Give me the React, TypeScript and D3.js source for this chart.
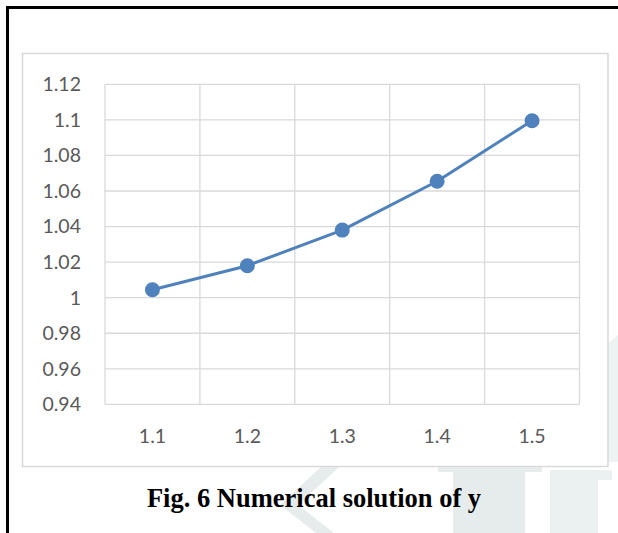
import React from "react";
import * as d3 from "d3";

const categories: string[] = ["1.1", "1.2", "1.3", "1.4", "1.5"];
const yValues: number[] = [1.0045, 1.018, 1.038, 1.0655, 1.0995];
const yTicks: number[] = [0.94, 0.96, 0.98, 1, 1.02, 1.04, 1.06, 1.08, 1.1, 1.12];
const caption = "Fig. 6 Numerical solution of y";

const W = 618;
const H = 533;

export default function App() {
  const plot = { left: 105, right: 579.5, top: 84.3, bottom: 404.4 };
  const x = d3.scaleBand<string>().domain(categories).range([plot.left, plot.right]);
  const y = d3.scaleLinear().domain([0.94, 1.12]).range([plot.bottom, plot.top]);
  const line = d3
    .line<number>()
    .x((_, i) => (x(categories[i]) as number) + x.bandwidth() / 2)
    .y((d) => y(d));
  const fmt = (v: number) => String(+v.toFixed(2));
  const grid = "#d9d9d9";
  const blue = "#4f81bd";
  const font = "Lato, 'Open Sans', sans-serif";
  const wm = "#e6ecec";

  return (
    <svg
      width={W}
      height={H}
      style={{ position: "absolute", left: 0, top: 0, display: "block", background: "#fff" }}
    >
      <rect x={0} y={0} width={W} height={H} fill="#fff" />
      {/* faint watermark */}
      <g fill={wm}>
        <polygon points="322,466 340,466 298,505 334,533 316,533 280,505" />
        <rect x={453} y={472} width={72} height={61} />
        <rect x={438} y={467} width={104} height={5} />
        <polygon points="550,470 612,470 612,480 598,480 598,533 550,533" opacity={0.8} />
        <polygon points="606,345 618,335 618,462 606,462" opacity={0.7} />
      </g>
      <rect x={22.5} y={53.5} width={585.5} height={413} fill="#fff" stroke={grid} strokeWidth={1.5} />
      {/* horizontal gridlines */}
      {yTicks.map((t) => (
        <line key={"h" + t} x1={plot.left} x2={plot.right} y1={y(t)} y2={y(t)} stroke={grid} strokeWidth={1.3} />
      ))}
      {/* vertical gridlines */}
      {categories.map((c) => (
        <line
          key={"v" + c}
          x1={x(c) as number}
          x2={x(c) as number}
          y1={plot.top}
          y2={plot.bottom}
          stroke={grid}
          strokeWidth={1.3}
        />
      ))}
      <line x1={plot.right} x2={plot.right} y1={plot.top} y2={plot.bottom} stroke={grid} strokeWidth={1.3} />
      {/* y tick labels */}
      {yTicks.map((t) => (
        <text
          key={"yl" + t}
          x={81}
          y={y(t)}
          dy="0.35em"
          textAnchor="end"
          fontFamily={font}
          fontSize={19.5}
          fill="#595959"
        >
          {fmt(t)}
        </text>
      ))}
      {/* x tick labels */}
      {categories.map((c) => (
        <text
          key={"xl" + c}
          x={(x(c) as number) + x.bandwidth() / 2}
          y={443}
          textAnchor="middle"
          fontFamily={font}
          fontSize={19.5}
          fill="#595959"
        >
          {c}
        </text>
      ))}
      <path d={line(yValues) || ""} fill="none" stroke={blue} strokeWidth={3} strokeLinejoin="round" />
      {yValues.map((v, i) => (
        <circle
          key={"p" + i}
          cx={(x(categories[i]) as number) + x.bandwidth() / 2}
          cy={y(v)}
          r={7.5}
          fill={blue}
        />
      ))}
      {/* caption */}
      <text
        x={314}
        y={507}
        textAnchor="middle"
        fontFamily="'Liberation Serif', 'Times New Roman', serif"
        fontWeight="bold"
        fontSize={26.5}
        fill="#000"
      >
        {caption}
      </text>
      {/* black page border */}
      <line x1={6} x2={W} y1={7.5} y2={7.5} stroke="#000" strokeWidth={3} />
      <line x1={7.5} x2={7.5} y1={6} y2={H} stroke="#000" strokeWidth={3} />
    </svg>
  );
}
